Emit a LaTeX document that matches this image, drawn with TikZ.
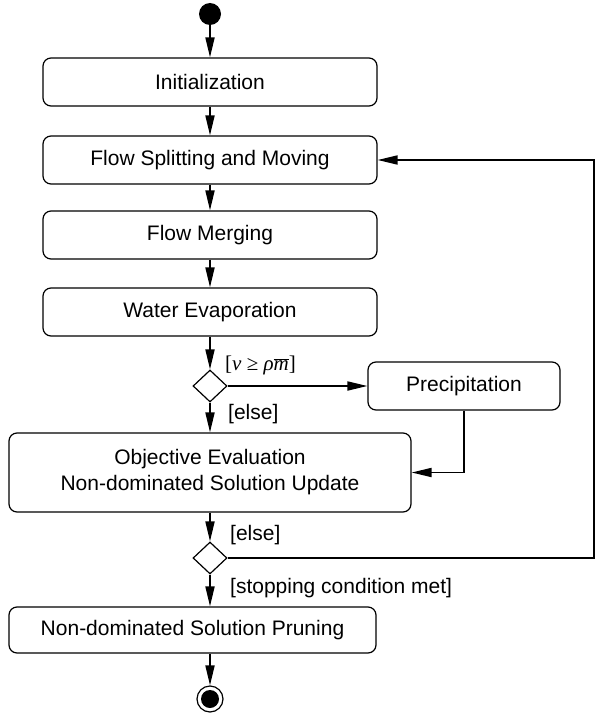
\documentclass[tikz,border=0pt]{standalone}
\usepackage{fontspec}
\setmainfont{Liberation Sans}
\newfontfamily\tms{Liberation Serif}
\usetikzlibrary{arrows.meta,shapes.geometric}
\begin{document}
\begin{tikzpicture}[x=1pt,y=-1pt,
 act/.style={draw,rounded corners=8pt,line width=1.2pt,minimum height=48pt,inner sep=0pt,font=\fontsize{21}{26}\selectfont,align=center},
 flow/.style={line width=1.8pt,-{Triangle[length=20pt,width=9pt]}},
 dec/.style={draw,diamond,line width=1.2pt,minimum width=34pt,minimum height=32pt,inner sep=0pt},
 lbl/.style={anchor=west,inner sep=0pt,font=\fontsize{21}{26}\selectfont}]
\useasboundingbox (0,0) rectangle (596,717);
\node[circle,fill,minimum size=22pt,inner sep=0pt] (start) at (210,14) {};
\node[act,minimum width=334pt] (init) at (210,82) {Initialization};
\node[act,minimum width=334pt] (fs) at (210,160) {Flow Splitting and Moving};
\node[act,minimum width=334pt] (fm) at (210,235) {Flow Merging};
\node[act,minimum width=334pt] (we) at (210,312) {Water Evaporation};
\node[dec] (d1) at (210,386) {};
\node[act,minimum width=192pt] (prec) at (464,386) {Precipitation};
\node[act,minimum width=402pt,minimum height=79pt] (obj) at (210,472.5) {Objective Evaluation\\Non-dominated Solution Update};
\node[dec] (d2) at (210,558) {};
\node[act,minimum width=367pt,minimum height=46pt] (ndsp) at (192.5,630) {Non-dominated Solution Pruning};
\node[circle,draw,line width=1.2pt,minimum size=26pt,inner sep=0pt] (end) at (210,699) {};
\node[circle,fill,minimum size=18pt,inner sep=0pt] (endin) at (end) {};
\node[lbl] (cond) at (225,365) {\tms[\textit{v} ≥ \textit{ρ}$\overline{\hbox{\tms\itshape m}}$]};
\node[lbl] (else1) at (228,414) {[else]};
\node[lbl] (else2) at (230,535) {[else]};
\node[lbl] (stop) at (230,588) {[stopping condition met]};
\coordinate (rt) at (594,558);
\draw[flow] (start) -- (init);
\draw[flow] (init) -- (fs);
\draw[flow] (fs) -- (fm);
\draw[flow] (fm) -- (we);
\draw[flow] (we) -- (d1);
\draw[flow] (d1) -- (obj);
\draw[flow] (d1.east) -- (prec.west);
\draw[flow] (prec.south) |- (obj.east);
\draw[flow] (obj) -- (d2);
\draw[flow] (d2.east) -- (rt) |- (fs.east);
\draw[flow] (d2.south) -- (d2 |- ndsp.north);
\draw[flow] (ndsp.south -| end) -- (end);
\end{tikzpicture}
\end{document}
